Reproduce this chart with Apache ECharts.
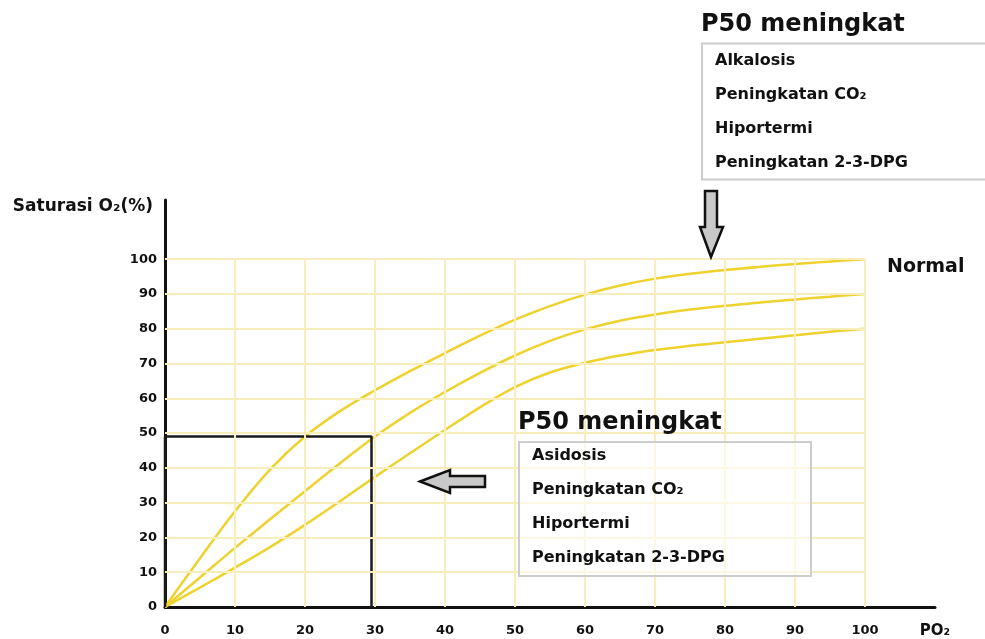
<!DOCTYPE html>
<html>
<head>
<meta charset="utf-8">
<title>Kurva disosiasi oksigen</title>
<script src="https://cdn.jsdelivr.net/npm/echarts@6/dist/echarts.min.js"></script>
<style>
  html, body { margin: 0; padding: 0; background: #fff; }
  #grafik { width: 985px; height: 639px; }
</style>
</head>
<body>
<div id="grafik"></div>
<script>
// nilai dibaca dari gambar — PO2 (mmHg) vs saturasi O2 (%)
const po2 = [0, 5, 10, 15, 20, 25, 30, 35, 40, 45, 50, 55, 60, 65, 70, 75, 80, 85, 90, 95, 100]
const kurvaNormal = [0, 14, 27.5, 39.5, 49, 56.3, 62.3, 67.8, 73, 78, 82.6, 86.5, 89.8, 92.4, 94.4, 95.8, 96.9, 97.8, 98.6, 99.3, 100]
const kurvaTengah = [0, 8.5, 17, 25.2, 33.3, 41.3, 49, 55.8, 61.8, 67.3, 72.3, 76.5, 79.8, 82.3, 84.1, 85.5, 86.6, 87.5, 88.4, 89.2, 90]
const kurvaBawah = [0, 5.6, 11.3, 17.2, 23.6, 30.4, 37.4, 44.2, 50.9, 57.4, 63.2, 67.4, 70.2, 72.3, 73.9, 75.1, 76.1, 77.1, 78.1, 79.1, 80]

const ticksX = [0, 10, 20, 30, 40, 50, 60, 70, 80, 90, 100]
const ticksY = [0, 10, 20, 30, 40, 50, 60, 70, 80, 90, 100]

// kotak P50: PO2 ~29.5, saturasi ~49
const kotakP50 = [[0, 0], [0, 49], [29.5, 49], [29.5, 0]]

const judulP50 = 'P50 meningkat'
const sebabKanan = ['Alkalosis', 'Peningkatan CO₂', 'Hiportermi', 'Peningkatan 2-3-DPG']
const sebabKiri = ['Asidosis', 'Peningkatan CO₂', 'Hiportermi', 'Peningkatan 2-3-DPG']

const FONT = '"DejaVu Sans", "Open Sans", sans-serif'
const KUNING = '#eed22e'

const gabung = arr => po2.map((x, i) => [x, arr[i]])

// garis grid hanya di area 0–100 (garis 0 = sumbu)
const garisGrid = [
  ...ticksX.filter(t => t > 0).map(t => [{ coord: [t, 0] }, { coord: [t, 100] }]),
  ...ticksY.filter(t => t > 0).map(t => [{ coord: [0, t] }, { coord: [100, t] }])
]

function kotakSebab(x, yJudul, yKotak, tinggi, lebar, items, isi, jarakAtas) {
  const el = [
    { type: 'rect', z: 20, shape: { x: x, y: yKotak, width: lebar, height: tinggi },
      style: { fill: isi, stroke: '#cdcdcd', lineWidth: 2 } },
    { type: 'text', z: 21, style: { x: x - 1, y: yJudul, text: judulP50, font: 'bold 24px ' + FONT,
      fill: '#111', align: 'left', verticalAlign: 'middle' } }
  ]
  items.forEach((t, i) => {
    el.push({ type: 'text', z: 21, style: { x: x + 13, y: yKotak + jarakAtas + i * 34, text: t,
      font: 'bold 16px ' + FONT, fill: '#111', align: 'left', verticalAlign: 'middle' } })
  })
  return el
}

const chart = echarts.init(document.getElementById('grafik'))

const kurva = (name, arr) => ({
  name: name, type: 'line', z: 3, smooth: 0.35, showSymbol: false,
  data: gabung(arr), lineStyle: { color: KUNING, width: 2.5 }
})

chart.setOption({
  animation: false,
  backgroundColor: '#fff',
  grid: { left: 165, right: 50, top: 200, bottom: 31.5, containLabel: false },
  xAxis: {
    type: 'value', min: 0, max: 110, interval: 10,
    axisLine: { lineStyle: { color: '#111', width: 3 } },
    axisTick: { show: false },
    splitLine: { show: false },
    axisLabel: {
      margin: 17, color: '#111', fontSize: 13, fontWeight: 'bold', fontFamily: FONT,
      formatter: v => (v === 110 ? '{po|PO₂}' : (v > 100 ? '' : String(v))),
      rich: { po: { fontSize: 15, fontWeight: 'bold', fontFamily: FONT, color: '#111' } }
    }
  },
  yAxis: {
    type: 'value', min: 0, max: 117, interval: 10,
    name: 'Saturasi O₂(%)', nameLocation: 'end', nameGap: -7,
    nameTextStyle: { align: 'right', verticalAlign: 'middle', padding: [0, 12, 0, 0],
      color: '#111', fontSize: 17, fontWeight: 'bold', fontFamily: FONT },
    axisLine: { lineStyle: { color: '#111', width: 3 } },
    axisTick: { show: false },
    splitLine: { show: false },
    axisLabel: {
      margin: 8, color: '#111', fontSize: 13, fontWeight: 'bold', fontFamily: FONT,
      formatter: v => (v > 100 ? '' : String(v))
    }
  },
  series: [
    {
      name: 'grid', type: 'line', z: 1, silent: true, data: [[0, 0]],
      showSymbol: false, lineStyle: { width: 0 },
      markLine: {
        silent: true, symbol: ['none', 'none'], label: { show: false },
        lineStyle: { color: '#f7eebb', width: 2, type: 'solid' },
        emphasis: { disabled: true },
        data: garisGrid
      }
    },
    Object.assign(kurva('Normal', kurvaNormal), {
      endLabel: { show: true, formatter: 'Normal', offset: [14, 8], color: '#111',
        fontSize: 19, fontWeight: 'bold', fontFamily: FONT }
    }),
    kurva('tengah', kurvaTengah),
    kurva('bawah', kurvaBawah),
    {
      name: 'P50', type: 'line', z: 4, showSymbol: false, silent: true,
      data: kotakP50, lineStyle: { color: '#1a1a1a', width: 2.5 }
    }
  ],
  graphic: [
    ...kotakSebab(702, 25, 43.5, 136, 320, sebabKanan, '#fff', 17),
    ...kotakSebab(519, 423, 442, 134, 292, sebabKiri, 'rgba(255,255,255,0.6)', 14),
    // panah bawah
    { type: 'polygon', z: 20,
      shape: { points: [[705, 191], [717, 191], [717, 227], [723, 227], [711, 257], [700, 227], [705, 227]] },
      style: { fill: '#c9c9c9', stroke: '#111', lineWidth: 2.5 } },
    // panah kiri
    { type: 'polygon', z: 20,
      shape: { points: [[420, 481.5], [450, 470], [450, 476], [485, 476], [485, 487], [450, 487], [450, 493]] },
      style: { fill: '#c9c9c9', stroke: '#111', lineWidth: 2.5 } }
  ]
})
</script>
</body>
</html>
